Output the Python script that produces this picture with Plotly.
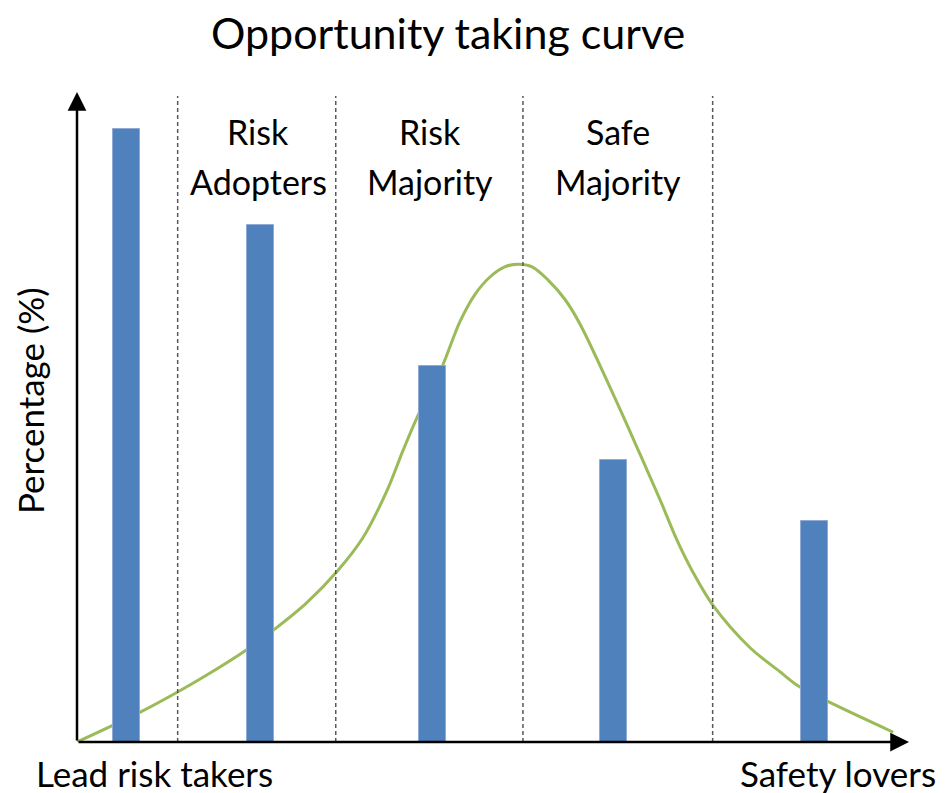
import plotly.graph_objects as go

# risk propensity scale runs 0 (lead risk takers) .. 100 (safety lovers)
bar_pos = [6.0, 22.1, 42.7, 64.5, 88.6]
bar_pct = [94.3, 79.5, 57.8, 43.4, 34.0]

curve_x = [0, 7.6, 12.1, 15.6, 20.4, 23.8, 27.6, 31.3, 34.4, 37.3, 39.2, 41.0, 43.9,
           46.0, 47.8, 49.6, 51.4, 53.0, 54.7, 56.6, 58.7, 60.5, 65.3, 67.7,
           70.1, 72.1, 74.0, 76.4, 80.9, 84.5, 86.7, 90.3, 98.1]
curve_y = [0, 4.6, 7.7, 10.3, 14.2, 17.4, 21.4, 26.3, 31.5, 38.8, 44.9, 50.3, 57.8,
           64.6, 68.8, 71.5, 73.1, 73.5, 73.1, 71.1, 68.0, 64.2, 51.1, 44.2,
           37.2, 31.1, 26.2, 21.1, 14.5, 10.8, 8.6, 6.2, 1.5]

dividers = [12.1, 31.1, 53.6, 76.4]
group_pos = [21.8, 42.4, 65.0]
group_labels = [("Risk", "Adopters"), ("Risk", "Majority"), ("Safe", "Majority")]

FONT = "Lato"
BLUE = "#4F81BD"
GREEN = "#9BBB59"

fig = go.Figure()

# curve on the base axes so the bars (overlaid axes) sit on top of it
fig.add_trace(go.Scatter(
    x=curve_x, y=curve_y, mode="lines",
    line=dict(color=GREEN, width=3, shape="spline", smoothing=0.9),
    hoverinfo="skip", showlegend=False, xaxis="x", yaxis="y"
))
fig.add_trace(go.Bar(
    x=bar_pos, y=bar_pct, width=3.25, marker=dict(color=BLUE, line=dict(color="#8FAAD4", width=1)),
    showlegend=False, xaxis="x2", yaxis="y2"
))

for d in dividers:
    fig.add_shape(type="line", x0=d, x1=d, y0=0, y1=99.4, xref="x", yref="y",
                  line=dict(color="#595959", width=1.5, dash="4px,3px"), layer="above")

for pos, (top, bottom) in zip(group_pos, group_labels):
    fig.add_annotation(x=pos, y=94.0, xref="x", yref="y", text=top, showarrow=False,
                       font=dict(family=FONT, size=34, color="black"))
    fig.add_annotation(x=pos, y=86.3, xref="x", yref="y", text=bottom, showarrow=False,
                       font=dict(family=FONT, size=34, color="black"))

# axes drawn as arrows
fig.add_annotation(x=100, y=0, ax=0, ay=0, xref="x", yref="y", axref="x", ayref="y",
                   showarrow=True, arrowhead=2, arrowsize=1.5, arrowwidth=2.5, arrowcolor="black",
                   text="", standoff=0, startstandoff=0)
fig.add_annotation(x=0, y=100, ax=0, ay=0, xref="x", yref="y", axref="x", ayref="y",
                   showarrow=True, arrowhead=2, arrowsize=1.5, arrowwidth=2.5, arrowcolor="black",
                   text="", standoff=0, startstandoff=0)

label_font = dict(family=FONT, size=35, color="black")
fig.add_annotation(x=-0.0565, y=0.526, xref="paper", yref="paper", text="Percentage (%)",
                   textangle=-90, showarrow=False, xanchor="center", yanchor="middle", font=label_font)
fig.add_annotation(x=0.093, y=-0.047, xref="paper", yref="paper", text="Lead risk takers",
                   showarrow=False, xanchor="center", yanchor="middle", font=label_font)
fig.add_annotation(x=0.915, y=-0.047, xref="paper", yref="paper", text="Safety lovers",
                   showarrow=False, xanchor="center", yanchor="middle", font=label_font)

# title
fig.add_annotation(x=0.446, y=1.092, xref="paper", yref="paper", text="Opportunity taking curve",
                   showarrow=False, xanchor="center", yanchor="middle",
                   font=dict(family=FONT, size=43, color="black"))

ax_style = dict(range=[0, 100], visible=False, fixedrange=True)
fig.update_layout(
    width=937, height=785,
    margin=dict(l=69, r=36, t=84, b=51, autoexpand=False),
    plot_bgcolor="white", paper_bgcolor="white",
    xaxis=ax_style, yaxis=ax_style,
    xaxis2=dict(ax_style, overlaying="x"), yaxis2=dict(ax_style, overlaying="y"),
    showlegend=False, bargap=0,
)

fig.write_html("out.html")
